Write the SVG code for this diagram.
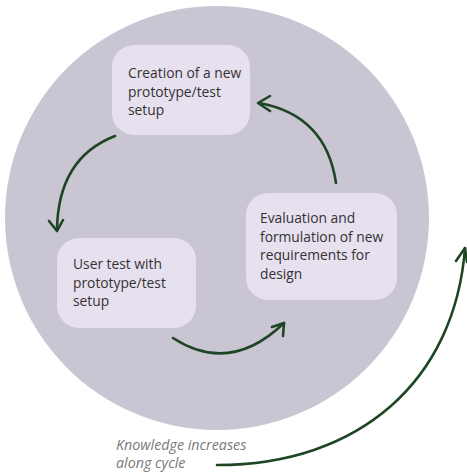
<svg xmlns="http://www.w3.org/2000/svg" width="467" height="474" viewBox="0 0 467 474">
<style>
.node rect{fill:#e7e0ee;}
.lbl{font-family:"Open Sans","Noto Sans",sans-serif;font-size:13.8px;fill:#333;}
.note{font-family:"Open Sans","Noto Sans",sans-serif;font-size:14.3px;font-style:italic;fill:#7a7a7a;}
.arr{fill:none;stroke:#1f4624;stroke-width:2.6;stroke-linecap:round;stroke-linejoin:round;}
</style>
<rect width="467" height="474" fill="#ffffff"/>
<circle cx="217" cy="218" r="212" fill="#c9c5d3"/>
<g id="node-creation" class="node">
<rect x="112" y="45" width="138" height="90" rx="22"/>
<text class="lbl"><tspan x="128" y="78">Creation of a new</tspan><tspan x="128" y="96.5">prototype/test</tspan><tspan x="128" y="115">setup</tspan></text>
</g>
<g id="node-evaluation" class="node">
<rect x="246" y="193" width="151" height="107" rx="22"/>
<text class="lbl"><tspan x="260" y="223">Evaluation and</tspan><tspan x="260" y="241.5">formulation of new</tspan><tspan x="260" y="260">requirements for</tspan><tspan x="260" y="278.5">design</tspan></text>
</g>
<g id="node-usertest" class="node">
<rect x="57" y="238" width="139" height="90" rx="22"/>
<text class="lbl"><tspan x="73" y="269">User test with</tspan><tspan x="73" y="287.5">prototype/test</tspan><tspan x="73" y="306">setup</tspan></text>
</g>
<g id="note">
<text class="note"><tspan x="116" y="450">Knowledge increases</tspan><tspan x="116" y="468">along cycle</tspan></text>
</g>
<g id="connectors">
<path class="arr" d="M115,136 Q58,158 57,230"/>
<path class="arr" d="M49,221 L57,231 L63,220"/>
<path class="arr" d="M336,183 Q326,115 259,103"/>
<path class="arr" d="M270,96 L258,103 L270,111"/>
<path class="arr" d="M173,338 Q230,375 284,323"/>
<path class="arr" d="M272,327 L284,323 L283,336"/>
<path class="arr" d="M217,465 C360,465 455,380 465,248"/>
<path class="arr" d="M456,261 L465,248 L467,262"/>
</g>
</svg>
